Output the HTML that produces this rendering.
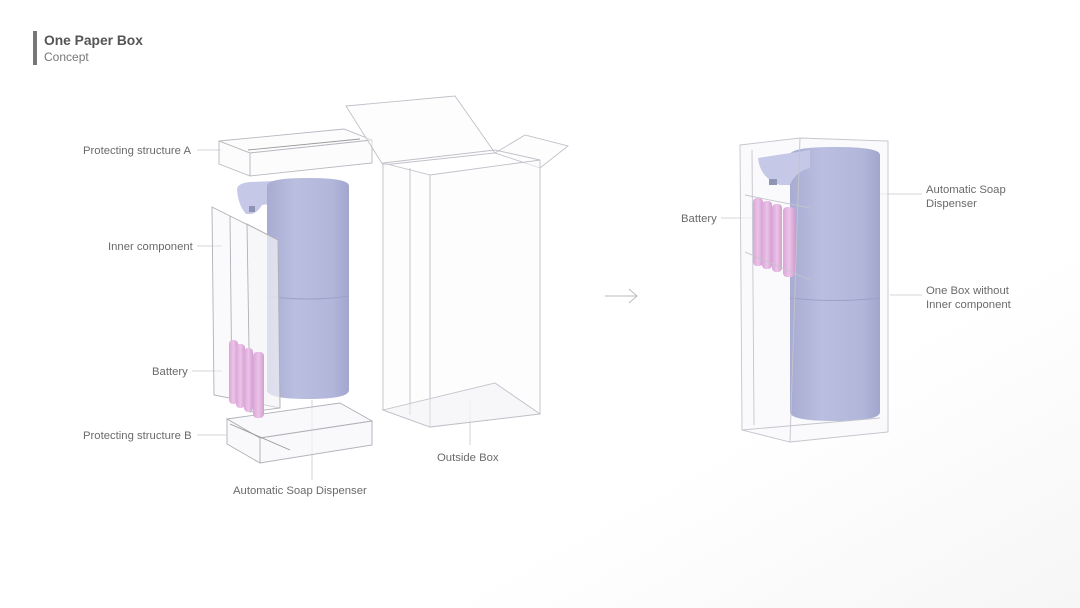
<!DOCTYPE html>
<html><head><meta charset="utf-8"><style>
html,body{margin:0;padding:0;background:#fff}
svg{display:block}
text{font-family:"Liberation Sans",sans-serif;fill:#6a6a6a;font-size:11.3px}
</style></head><body>
<svg width="1080" height="608" viewBox="0 0 1080 608" xmlns="http://www.w3.org/2000/svg">
<defs>
<linearGradient id="cyl" x1="0" x2="1" y1="0" y2="0">
<stop offset="0" stop-color="#a8acd2"/><stop offset="0.35" stop-color="#babedf"/><stop offset="0.8" stop-color="#b2b6da"/><stop offset="1" stop-color="#a2a6cd"/></linearGradient>
<linearGradient id="bat" x1="0" x2="1"><stop offset="0" stop-color="#d9a6d8"/><stop offset="0.5" stop-color="#ecc3e8"/><stop offset="1" stop-color="#d29ed0"/></linearGradient>
<linearGradient id="bg" x1="0" y1="0" x2="1" y2="1"><stop offset="0.7" stop-color="#fff"/><stop offset="1" stop-color="#f6f6f6"/></linearGradient>
</defs>
<rect width="1080" height="608" fill="url(#bg)"/>
<rect x="33" y="31" width="4" height="34" fill="#777"/>
<text x="44" y="45" style="font-size:13.8px;font-weight:bold;fill:#555">One Paper Box</text>
<text x="44" y="61" style="font-size:12px;fill:#777">Concept</text>

<g fill="none" stroke="#c8c8cc" stroke-width="0.8">
<line x1="197" y1="150" x2="222" y2="150"/>
<line x1="197" y1="246" x2="222" y2="246"/>
<line x1="192" y1="371" x2="222" y2="371"/>
<line x1="197" y1="435" x2="226" y2="435"/>
<line x1="312" y1="400" x2="312" y2="480"/>
<line x1="470" y1="400" x2="470" y2="445"/>
<line x1="721" y1="218" x2="752" y2="218"/>
<line x1="880" y1="194" x2="922" y2="194"/>
<line x1="890" y1="295" x2="922" y2="295"/>
</g>

<g fill="#fafafc" fill-opacity="0.6" stroke="#b8b8c0" stroke-width="0.9">
<polygon points="219,141 344,129 372,140 250,153"/>
<polygon points="219,141 250,153 250,176 219,164"/>
<polygon points="250,153 372,140 372,163 250,176"/>
<line x1="248" y1="150" x2="360" y2="139" stroke="#999"/>
</g>

<g fill="#fbfbfd" fill-opacity="0.5" stroke="#c0c0c8" stroke-width="0.9">
<polygon points="346,106 455,96 495,153 383,165"/>
<polygon points="495,153 525,135 568,146 540,168"/>
<polygon points="383,163 430,175 430,427 383,410"/>
<polygon points="430,175 540,160 540,414 430,427"/>
<line x1="383" y1="163" x2="495" y2="150"/>
<line x1="495" y1="150" x2="540" y2="160"/>
<line x1="410" y1="168" x2="410" y2="415"/>
<polygon points="383,410 495,383 540,414 430,427" fill="#f2f2f5"/>
</g>

<g fill="#f7f7f9" fill-opacity="0.7" stroke="#b0b0b8" stroke-width="0.9">
<polygon points="227,419 340,403 372,421 260,438"/>
<polygon points="227,419 260,438 260,463 227,444"/>
<polygon points="260,438 372,421 372,445 260,463"/>
<line x1="230" y1="424" x2="290" y2="450" stroke="#999"/>
</g>

<path d="M237,189 Q238,183 250,182 L300,180 L300,200 L262,205 Q258,212 252,214 L246,214 Q238,205 237,189 Z" fill="#c5c8e6"/>
<rect x="249" y="206" width="6" height="6" fill="#8f93b3"/>
<path d="M267,186 Q267,178 308,178 Q349,178 349,186 L349,390 Q349,399 308,399 Q267,399 267,390 Z" fill="url(#cyl)"/>
<path d="M267,296 Q308,302 349,296" fill="none" stroke="#9da1c9" stroke-width="1"/>

<g fill="#f5f5f8" fill-opacity="0.45" stroke="#b0b0b8" stroke-width="0.9">
<polygon points="212,207 278,240 280,408 214,395"/>
<polygon points="247,224 278,240 280,408 250,412"/>
<line x1="230" y1="216" x2="232" y2="398"/>
</g>
<g fill="url(#bat)">
<rect x="229" y="340" width="9" height="64" rx="4"/>
<rect x="236" y="344" width="9" height="64" rx="4"/>
<rect x="244" y="348" width="9" height="64" rx="4"/>
<rect x="253" y="352" width="11" height="66" rx="4"/>
</g>

<g stroke="#bbb" stroke-width="1" fill="none">
<line x1="605" y1="296" x2="637" y2="296"/>
<polyline points="629,289 637,296 629,303"/>
</g>

<g fill="#f7f7fa" fill-opacity="0.6" stroke="#c4c4cc" stroke-width="0.9">
<polygon points="740,145 800,138 888,141 888,432 790,442 742,430"/>
</g>
<path d="M790,155 Q790,147 835,147 Q880,147 880,155 L880,412 Q880,421 835,421 Q790,421 790,412 Z" fill="url(#cyl)"/>
<path d="M758,158 L810,150 L810,168 Q795,172 790,185 L780,185 Q760,178 758,158 Z" fill="#c5c8e6"/>
<rect x="769" y="179" width="8" height="6" fill="#9094b5"/>
<path d="M790,298 Q835,303 880,298" fill="none" stroke="#9da1c9"/>
<g fill="url(#bat)">
<rect x="753" y="198" width="10" height="68" rx="4"/>
<rect x="762" y="201" width="10" height="68" rx="4"/>
<rect x="772" y="204" width="10" height="68" rx="4"/>
<rect x="783" y="207" width="12" height="70" rx="4"/>
</g>
<g fill="none" stroke="#c4c4cc" stroke-width="0.9">
<line x1="800" y1="138" x2="790" y2="442"/>
<line x1="745" y1="195" x2="810" y2="208"/>
<line x1="745" y1="252" x2="810" y2="280"/>
<line x1="752" y1="150" x2="754" y2="425"/>
<line x1="742" y1="430" x2="880" y2="418"/>
</g>

<text x="83" y="154">Protecting structure A</text>
<text x="108" y="250">Inner component</text>
<text x="152" y="375">Battery</text>
<text x="83" y="439">Protecting structure B</text>
<text x="233" y="494">Automatic Soap Dispenser</text>
<text x="437" y="461">Outside Box</text>
<text x="681" y="222">Battery</text>
<text x="926" y="193">Automatic Soap</text>
<text x="926" y="207">Dispenser</text>
<text x="926" y="294">One Box without</text>
<text x="926" y="308">Inner component</text>
</svg>
</body></html>
